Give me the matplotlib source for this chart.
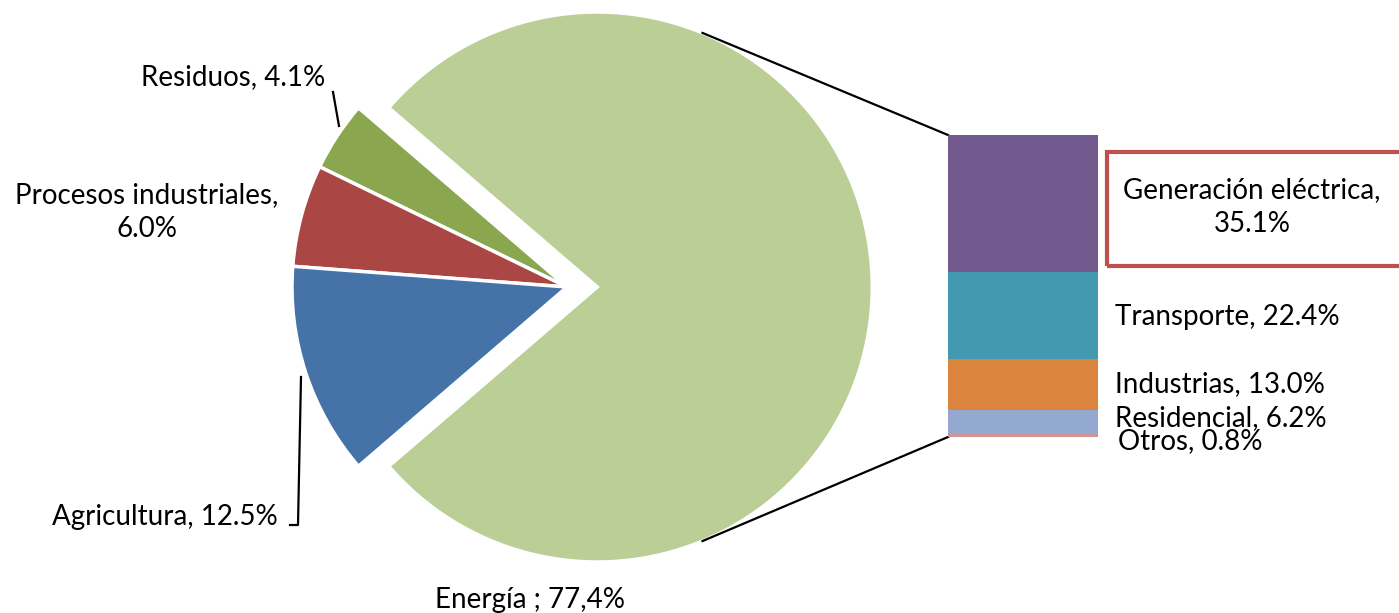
import matplotlib
matplotlib.use("Agg")
import matplotlib.pyplot as plt
from matplotlib.patches import Rectangle
import numpy as np

plt.rcParams['font.family'] = ['Lato', 'DejaVu Sans']

# ---- data ----
pie_labels = ["Energía ; 77,4%", "Residuos, 4.1%", "Procesos industriales,\n6.0%", "Agricultura, 12.5%"]
pie_values = [77.4, 4.1, 6.0, 12.5]
pie_colors = ["#BACE96", "#8AA64E", "#AA4644", "#4572A7"]

bar_labels = ["Generación eléctrica,\n35.1%", "Transporte, 22.4%", "Industrias, 13.0%",
              "Residencial, 6.2%", "Otros, 0.8%"]
bar_values = [35.1, 22.4, 13.0, 6.2, 0.8]
bar_colors = ["#725A8F", "#4399B0", "#DB843D", "#94A9CF", "#D19393"]

W, H = 1399, 613
fig = plt.figure(figsize=(W / 100, H / 100), dpi=100)
ax = fig.add_axes([0, 0, 1, 1])

def py(y):  # pixel-from-top to data y
    return H - y

cx, cy, R = 567, py(287), 275
expl = 0.11 * R
start = -pie_values[0] / 100 * 360 / 2
ax.pie(pie_values, colors=pie_colors, startangle=start, counterclock=True,
       explode=[expl, 0.0, 0.0, 0.0], center=(cx, cy), radius=R,
       wedgeprops=dict(edgecolor="white", linewidth=2.5))
ax.set_xlim(0, W)
ax.set_ylim(0, H)
ax.set_aspect('equal')
ax.axis('off')

fs = 20
# pie labels
ax.text(233, py(77), pie_labels[1], ha='center', va='center', fontsize=fs)
ax.text(147, py(212), pie_labels[2], ha='center', va='center', fontsize=fs, linespacing=1.35)
ax.text(165, py(517), pie_labels[3], ha='center', va='center', fontsize=fs)
ax.text(530, py(600), pie_labels[0], ha='center', va='center', fontsize=fs)

# leader lines
ax.plot([333, 339], [py(92), py(126)], color='black', lw=1.6)
ax.plot([301, 298, 290], [py(377), py(525), py(525)], color='black', lw=1.6)

# bar of pie
bx0, bx1, by_top, by_bot = 948, 1098, 135, 437
bax = fig.add_axes([bx0 / W, (H - by_bot) / H, (bx1 - bx0) / W, (by_bot - by_top) / H])
total = sum(bar_values)
bottom = total
for v, c in zip(bar_values, bar_colors):
    bottom -= v
    bax.bar(0, v, bottom=bottom, color=c, width=1.0, linewidth=0)
bax.set_xlim(-0.5, 0.5)
bax.set_ylim(0, total)
bax.axis('off')

# connector lines from energy slice to bar
ecx = cx + expl
ang = np.deg2rad(67.5)
ax.plot([ecx + R * np.cos(ang), bx0], [cy + R * np.sin(ang), py(by_top)], color='black', lw=1.6)
ax.plot([ecx + R * np.cos(ang), bx0], [cy - R * np.sin(ang), py(by_bot)], color='black', lw=1.6)

# bar labels
ax.add_patch(Rectangle((1107, py(266)), 300, 114, fill=False, edgecolor="#C0504D", lw=3, clip_on=False))
ax.text(1252, py(207), bar_labels[0], ha='center', va='center', fontsize=fs, linespacing=1.35)
ax.text(1115, py(317), bar_labels[1], ha='left', va='center', fontsize=fs)
ax.text(1115, py(384), bar_labels[2], ha='left', va='center', fontsize=fs)
ax.text(1115, py(418), bar_labels[3], ha='left', va='center', fontsize=fs)
ax.text(1118, py(441), bar_labels[4], ha='left', va='center', fontsize=fs)

fig.savefig("out.png", dpi=100)
